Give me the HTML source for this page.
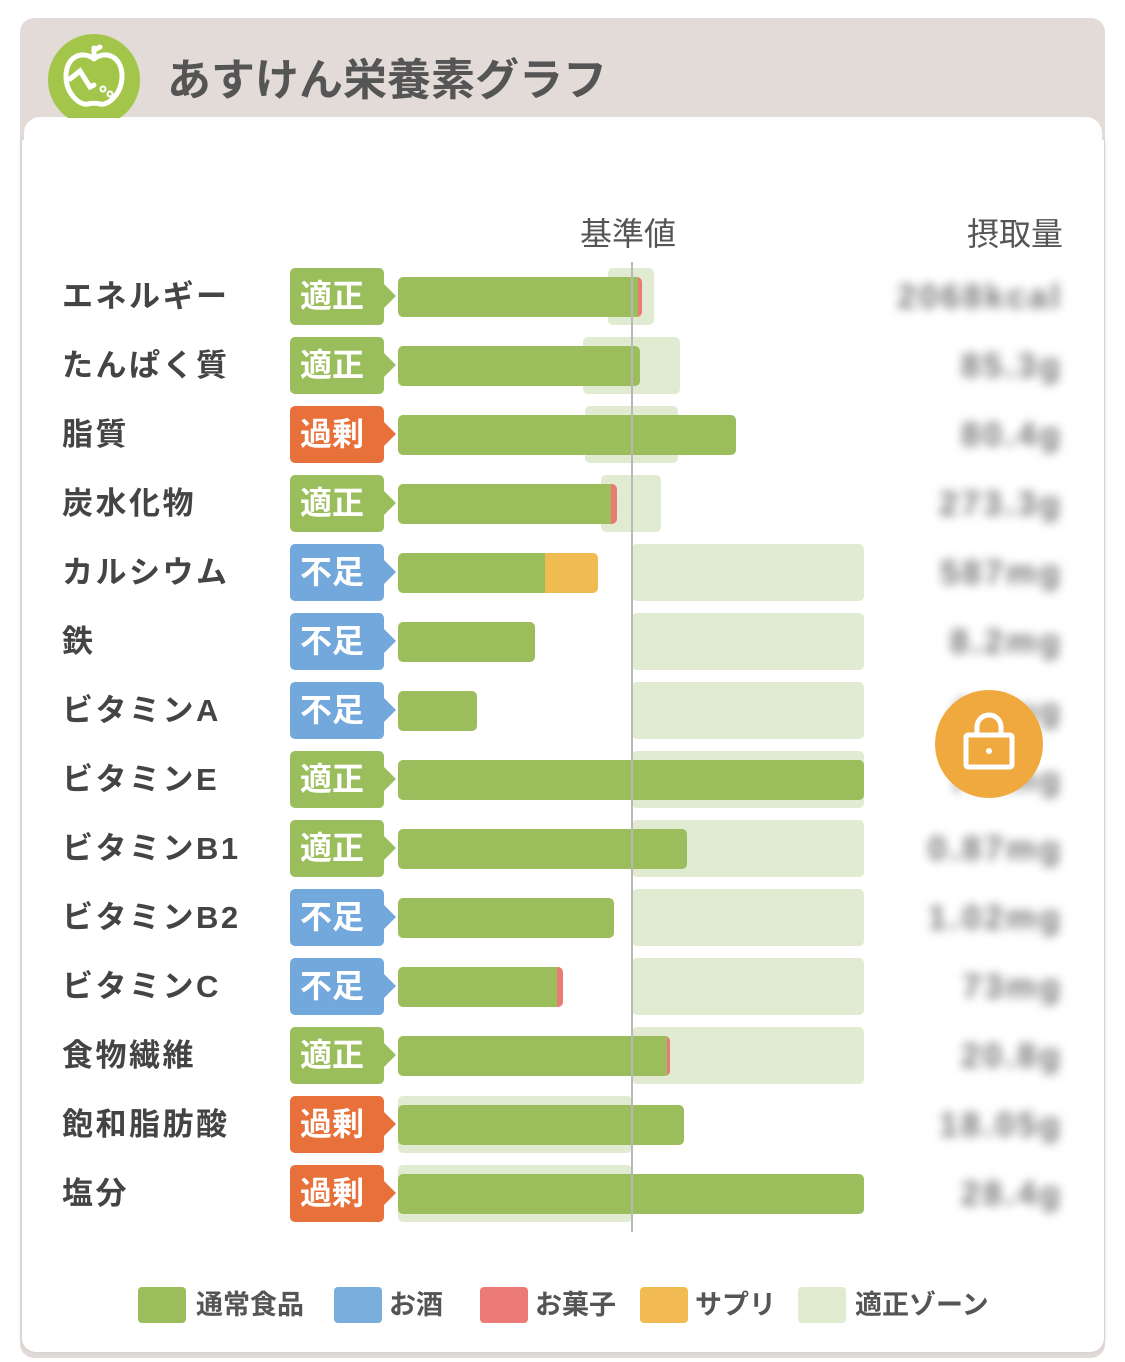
<!DOCTYPE html>
<html><head><meta charset="utf-8"><style>
*{margin:0;padding:0;box-sizing:border-box}
body{width:1125px;height:1362px;background:#fff;position:relative;overflow:hidden;font-family:"Liberation Sans","Noto Sans CJK JP",sans-serif}
.a{position:absolute}
.lbl{position:absolute;left:62px;font-size:31px;color:#444;font-weight:700;line-height:40px;letter-spacing:2.5px}
.tag{position:absolute;left:290px;width:94px;height:57px;border-radius:5px;color:#fff;font-size:32px;font-weight:700;line-height:57px;padding-left:10px}
.tag:after{content:"";position:absolute;right:-12px;top:16px;border-left:12px solid;border-left-color:inherit;border-top:12px solid transparent;border-bottom:12px solid transparent}
.g{background:#9bbe5c;border-color:#9bbe5c}.o{background:#e8703a;border-color:#e8703a}.b{background:#72a8dc;border-color:#72a8dc}
.z{position:absolute;background:#e0ebd2;border-radius:5px;height:57px}
.bar{position:absolute;height:40px;border-radius:5px;overflow:hidden;background:#9cbd5c;left:398px}
.val{position:absolute;right:62px;font-size:34px;color:#777;filter:blur(5px);line-height:40px;letter-spacing:3px;font-weight:700}
.lg{position:absolute;top:1287px;width:48px;height:36px;border-radius:4px}
.lt{position:absolute;top:1287px;font-size:27px;color:#555;font-weight:700;line-height:36px}
</style></head><body>
<div class="a" style="left:20px;top:18px;width:1085px;height:1340px;background:#e2dbd7;border-radius:14px"></div>
<div class="a" style="left:22px;top:140px;width:1082px;height:1212px;background:#fff;border-radius:0 0 14px 14px;box-shadow:0 0 4px #ccc"></div>
<div class="a" style="left:24px;top:117px;width:1078px;height:60px;background:#fff;border-radius:16px 16px 0 0"></div>
<div class="a" style="left:48px;top:34px;width:92px;height:92px;border-radius:50%;background:#a3c64a;clip-path:inset(0 0 8px 0)"></div>
<svg class="a" style="left:48px;top:34px" width="92" height="92"><g fill="none" stroke="#fff" stroke-width="5" stroke-linecap="round"><path d="M46 25 C35 16 18 22 18 42 C18 60 32 72 40 70 C43 69 49 69 52 70 C60 72 74 60 74 42 C74 22 57 16 46 25"/><path d="M46 24 V14 M46 16 l6 -3"/><path d="M22 45 l10 -8 l10 16 l4 -2"/><circle cx="55" cy="55" r="1" /><circle cx="62" cy="60" r="1"/></g></svg>
<div class="a" style="left:167px;top:55px;font-size:44px;color:#555;font-weight:700;line-height:52px">あすけん栄養素グラフ</div>
<div class="a" style="left:580px;top:214px;font-size:32px;color:#555;line-height:40px">基準値</div>
<div class="a" style="right:62px;top:214px;font-size:32px;color:#555;line-height:40px">摂取量</div>

<div class="z" style="left:608px;top:268px;width:46px"></div>
<div class="z" style="left:583px;top:337px;width:97px"></div>
<div class="z" style="left:585px;top:406px;width:93px"></div>
<div class="z" style="left:601px;top:475px;width:60px"></div>
<div class="z" style="left:632px;top:544px;width:232px"></div>
<div class="z" style="left:632px;top:613px;width:232px"></div>
<div class="z" style="left:632px;top:682px;width:232px"></div>
<div class="z" style="left:632px;top:751px;width:232px"></div>
<div class="z" style="left:632px;top:820px;width:232px"></div>
<div class="z" style="left:632px;top:889px;width:232px"></div>
<div class="z" style="left:632px;top:958px;width:232px"></div>
<div class="z" style="left:632px;top:1027px;width:232px"></div>
<div class="z" style="left:398px;top:1096px;width:234px"></div>
<div class="z" style="left:398px;top:1165px;width:234px"></div>

<div class="bar" style="top:277px;width:244px;background:linear-gradient(90deg,#9cbd5c 240px,#ea7b74 240px)"></div>
<div class="bar" style="top:346px;width:242px"></div>
<div class="bar" style="top:415px;width:338px"></div>
<div class="bar" style="top:484px;width:219px;background:linear-gradient(90deg,#9cbd5c 213px,#ea7b74 213px)"></div>
<div class="bar" style="top:553px;width:200px;background:linear-gradient(90deg,#9cbd5c 147px,#f0bb50 147px)"></div>
<div class="bar" style="top:622px;width:137px"></div>
<div class="bar" style="top:691px;width:79px"></div>
<div class="bar" style="top:760px;width:466px"></div>
<div class="bar" style="top:829px;width:289px"></div>
<div class="bar" style="top:898px;width:216px"></div>
<div class="bar" style="top:967px;width:165px;background:linear-gradient(90deg,#9cbd5c 159px,#ea7b74 159px)"></div>
<div class="bar" style="top:1036px;width:272px;background:linear-gradient(90deg,#9cbd5c 269px,#ea7b74 269px)"></div>
<div class="bar" style="top:1105px;width:286px"></div>
<div class="bar" style="top:1174px;width:466px"></div>
<div class="a" style="left:631px;top:262px;width:1.5px;height:970px;background:#b8b8b8"></div>

<div class="lbl" style="top:277px">エネルギー</div><div class="tag g" style="top:268px">適正</div><div class="val" style="top:277px">2068kcal</div>
<div class="lbl" style="top:346px">たんぱく質</div><div class="tag g" style="top:337px">適正</div><div class="val" style="top:346px">85.3g</div>
<div class="lbl" style="top:415px">脂質</div><div class="tag o" style="top:406px">過剰</div><div class="val" style="top:415px">80.4g</div>
<div class="lbl" style="top:484px">炭水化物</div><div class="tag g" style="top:475px">適正</div><div class="val" style="top:484px">273.3g</div>
<div class="lbl" style="top:553px">カルシウム</div><div class="tag b" style="top:544px">不足</div><div class="val" style="top:553px">587mg</div>
<div class="lbl" style="top:622px">鉄</div><div class="tag b" style="top:613px">不足</div><div class="val" style="top:622px">8.2mg</div>
<div class="lbl" style="top:691px">ビタミンA</div><div class="tag b" style="top:682px">不足</div><div class="val" style="top:691px">420µg</div>
<div class="lbl" style="top:760px">ビタミンE</div><div class="tag g" style="top:751px">適正</div><div class="val" style="top:760px">7.6mg</div>
<div class="lbl" style="top:829px">ビタミンB1</div><div class="tag g" style="top:820px">適正</div><div class="val" style="top:829px">0.87mg</div>
<div class="lbl" style="top:898px">ビタミンB2</div><div class="tag b" style="top:889px">不足</div><div class="val" style="top:898px">1.02mg</div>
<div class="lbl" style="top:967px">ビタミンC</div><div class="tag b" style="top:958px">不足</div><div class="val" style="top:967px">73mg</div>
<div class="lbl" style="top:1036px">食物繊維</div><div class="tag g" style="top:1027px">適正</div><div class="val" style="top:1036px">20.8g</div>
<div class="lbl" style="top:1105px">飽和脂肪酸</div><div class="tag o" style="top:1096px">過剰</div><div class="val" style="top:1105px">18.05g</div>
<div class="lbl" style="top:1174px">塩分</div><div class="tag o" style="top:1165px">過剰</div><div class="val" style="top:1174px">28.4g</div>

<div class="a" style="left:935px;top:690px;width:108px;height:108px;border-radius:50%;background:#efa93f"></div>
<svg class="a" style="left:935px;top:690px" width="108" height="108"><g fill="none" stroke="#fff" stroke-width="5"><rect x="31" y="45" width="46" height="32" rx="2"/><path d="M42 45 V37 a12 12 0 0 1 24 0 V45"/></g><circle cx="54" cy="61" r="3" fill="#fff"/></svg>

<div class="lg" style="left:138px;background:#9cbd5c"></div><div class="lt" style="left:196px">通常食品</div>
<div class="lg" style="left:334px;background:#7aaedc"></div><div class="lt" style="left:389px">お酒</div>
<div class="lg" style="left:480px;background:#ec7b78"></div><div class="lt" style="left:535px">お菓子</div>
<div class="lg" style="left:640px;background:#f1bb52"></div><div class="lt" style="left:695px">サプリ</div>
<div class="lg" style="left:798px;background:#e0ebd0"></div><div class="lt" style="left:855px">適正ゾーン</div>
</body></html>
